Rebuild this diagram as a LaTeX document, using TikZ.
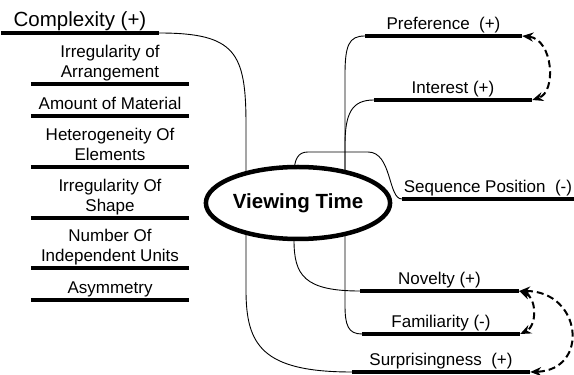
\documentclass[tikz,border=0pt]{standalone}
\usepackage{fontspec}
\setmainfont{Liberation Sans}
\usetikzlibrary{arrows.meta,calc,shapes.geometric}

\tikzset{
  lbl/.style={font=\fontsize{17}{20}\selectfont, align=center, inner sep=0pt,
              text depth=6pt, anchor=south},
  bar/.style={line width=4.5pt},
  link/.style={line width=0.9pt},
  assoc/.style={line width=2pt, dash pattern=on 7pt off 4pt,
                {Stealth[length=11pt,width=9pt]}-{Stealth[length=11pt,width=9pt]}},
  hub/.style={ellipse, draw, line width=4.5pt, fill=white, minimum width=152pt,
              minimum height=72pt, inner sep=0pt,
              font=\fontsize{20.5}{24}\selectfont\bfseries}
}

\begin{document}
\begin{tikzpicture}[x=1pt,y=1pt]
\useasboundingbox (0,0) rectangle (574,375);

% left side
\node[lbl, minimum width=158pt, font=\fontsize{20.5}{24}\selectfont] (cx) at (80,342) {Complexity (+)};
\node[lbl, minimum width=158pt] (irrarr) at (110,291) {Irregularity of\\Arrangement};
\node[lbl, minimum width=158pt] (amount) at (110,259) {Amount of Material};
\node[lbl, minimum width=158pt] (hetero) at (110,208) {Heterogeneity Of\\Elements};
\node[lbl, minimum width=158pt] (irrshape) at (110,157) {Irregularity Of\\Shape};
\node[lbl, minimum width=158pt] (units) at (110,107) {Number Of\\Independent Units};
\node[lbl, minimum width=158pt] (asym) at (110,75) {Asymmetry};

% right side
\node[lbl, minimum width=157pt] (pref) at (443.5,339) {Preference\ \ (+)};
\node[lbl, minimum width=158pt] (interest) at (453,275) {Interest (+)};
\node[lbl, minimum width=172pt] (seq) at (488,176) {Sequence Position\ \ (-)};
\node[lbl, minimum width=159pt] (novel) at (439.5,84) {Novelty (+)};
\node[lbl, minimum width=158pt] (famil) at (441,41) {Familiarity (-)};
\node[lbl, minimum width=178pt] (surp) at (441,3) {Surprisingness\ \ (+)};

% centre
\coordinate (vtc) at (298,172);
\coordinate (hubL) at ($(vtc)+(-52,0)$);
\coordinate (hubR) at ($(vtc)+(47,0)$);
\coordinate (hubM) at ($(vtc)+(-4,0)$);

% links to the centre
\draw[link] (cx.south east) .. controls (236,342) and (246,322) .. (246,250) -- (hubL);
\draw[link] (surp.south west) .. controls (262,3) and (246,30) .. (246,85) -- (hubL);
\draw[link] (pref.south west) .. controls (349,339) and (345,330) .. (345,300) -- (hubR);
\draw[link] (interest.south west) .. controls (352,275) and (345,262) .. (345,230) -- (hubR);
\draw[link] (famil.south west) .. controls (348,41) and (345,50) .. (345,70) -- (hubR);
\draw[link] (novel.south west) .. controls (304,84) and (294,100) .. (294,135) -- (hubM);
\draw[link] (seq.south west) .. controls (388,176) and (392,223) .. (368,223) -- (308,223)
  .. controls (298,223) and (294,216) .. (294,200) -- (hubM);

\node[hub] (vt) at (vtc) {Viewing Time};

\foreach \n in {cx,irrarr,amount,hetero,irrshape,units,asym,pref,interest,seq,novel,famil,surp}
  \draw[bar] (\n.south west) -- (\n.south east);

% dashed associations
\draw[assoc] (pref.south east) .. controls (553,336) and (557,283) .. (interest.south east);
\draw[assoc] (novel.south east) .. controls (537,77) and (537,49) .. (famil.south east);
\draw[assoc] (novel.south east) .. controls (582,84) and (590,5) .. (surp.south east);
\end{tikzpicture}
\end{document}
